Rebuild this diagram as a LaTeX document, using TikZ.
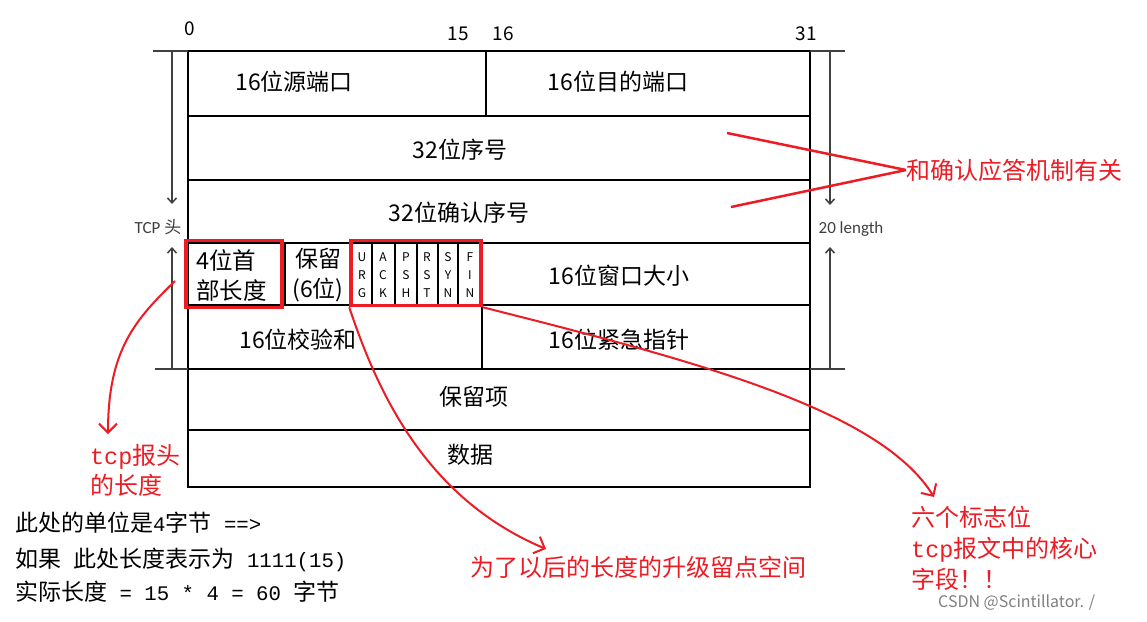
\documentclass[tikz,border=0pt]{standalone}
\usepackage{fontspec}
\setmainfont{Noto Sans CJK SC}
\newfontfamily\cali{Carlito}
\newfontfamily\mono{Liberation Mono}[Scale=0.9]
\usetikzlibrary{arrows.meta}
\definecolor{notered}{RGB}{237,28,36}
\definecolor{dimgray}{RGB}{64,64,64}
\begin{document}
\begin{tikzpicture}[x=1pt,y=-1pt,
  gridline/.style={line width=2.8pt},
  thinline/.style={line width=1.3pt},
  redbox/.style={draw=notered,line width=3.5pt,inner sep=0pt},
  cellt/.style={font=\fontsize{23}{26}\selectfont,inner sep=0pt},
  bitno/.style={font=\fontsize{19}{22}\selectfont,inner sep=0pt},
  flagt/.style={font=\fontsize{12}{18}\selectfont,inner sep=0pt,align=center},
  rednote/.style={text=notered,font=\fontsize{24}{31}\selectfont,align=left,inner sep=0pt},
  blacknote/.style={font=\fontsize{23}{26}\selectfont,inner sep=0pt,anchor=west},
  redarrow/.style={draw=notered,line width=2pt,-{Straight Barb[length=9pt,width=18pt,line width=2pt]}},
  redline/.style={draw=notered,line width=2.5pt},
  grayarrow/.style={draw=dimgray,line width=1.5pt,-{Straight Barb[length=5pt,width=9pt]}},
  graytick/.style={draw=dimgray,line width=1.5pt},
  smallgray/.style={text=dimgray,font=\cali\fontsize{17}{19}\selectfont,inner sep=0pt}
]
\useasboundingbox[fill=white] (0,0) rectangle (1147,621);

% bit numbers
\node[bitno] (b0) at (190,29) {0};
\node[bitno] (b15) at (458,34) {15};
\node[bitno] (b16) at (503,34) {16};
\node[bitno] (b31) at (806,34) {31};

% table frame
\draw[gridline] (188,51) rectangle (810,487);
\foreach \yy in {116,180,243,305,369,430}
  \draw[gridline] (188,\yy) -- (810,\yy);
\draw[gridline] (486,51) -- (486,116);
\draw[gridline] (482,305) -- (482,369);
\draw[gridline] (285,243) -- (285,305);
\draw[gridline] (351,243) -- (351,305);
\draw[gridline] (481,243) -- (481,305);
\foreach \xx in {372,395,417,438,458}
  \draw[thinline] (\xx,243) -- (\xx,305);

% cell texts
\node[cellt] (src) at (294,82) {16位源端口};
\node[cellt] (dst) at (618,82) {16位目的端口};
\node[cellt] (seq) at (460,150) {32位序号};
\node[cellt] (ack) at (459,213) {32位确认序号};
\node[cellt] (win) at (619,276) {16位窗口大小};
\node[cellt] (chk) at (298,340) {16位校验和};
\node[cellt] (urgp) at (619,340) {16位紧急指针};
\node[cellt] (opt) at (474,397) {保留项};
\node[cellt] (data) at (470,455) {数据};

% header length box
\node[redbox,minimum width=96pt,minimum height=67pt] (hlen) at (234,274) {};
\node[font=\fontsize{23.5}{30}\selectfont,align=left,inner sep=0pt,anchor=west] (hlent) at (196,275) {4位首\\部长度};
% reserved
\node[font=\fontsize{23}{30}\selectfont,align=center,inner sep=0pt] (resv) at (318,275) {保留\\(6位)};
% flags
\node[redbox,minimum width=130pt,minimum height=65pt] (flags) at (416,273) {};
\node[flagt] (fu) at (362,275) {U\\R\\G};
\node[flagt] (fa) at (383,275) {A\\C\\K};
\node[flagt] (fp) at (406,275) {P\\S\\H};
\node[flagt] (fr) at (427,275) {R\\S\\T};
\node[flagt] (fs) at (448,275) {S\\Y\\N};
\node[flagt] (ff) at (470,275) {F\\I\\N};

% left bracket: TCP head
\node[smallgray] (tcph) at (158,227) {TCP {\fontspec{Noto Sans CJK SC}头}};
\coordinate (lt) at (172,51);
\coordinate (lb) at (172,369);
\draw[graytick] (153,51) -- (188,51);
\draw[graytick] (155,369) -- (188,369);
\draw[grayarrow] (lt) -- (172,204);
\draw[grayarrow] (lb) -- (172,247);

% right bracket: 20 length
\node[smallgray] (len20) at (851,229) {20 length};
\coordinate (rt) at (830,51);
\coordinate (rb) at (830,369);
\draw[graytick] (810,51) -- (845,51);
\draw[graytick] (810,369) -- (845,369);
\draw[grayarrow] (rt) -- (830,205);
\draw[grayarrow] (rb) -- (830,247);

% red notes
\node[rednote,anchor=west] (acknote) at (906,170) {和确认应答机制有关};
\coordinate (seqpt) at (727,133);
\coordinate (ackpt) at (731,207);
\draw[redline] (seqpt) -- (acknote.west);
\draw[redline] (ackpt) -- (acknote.west);

\node[rednote,anchor=north west,font=\fontsize{24}{30}\selectfont] (tcplen) at (90,444) {{\mono\fontsize{26}{30}\selectfont tcp}报头\\的长度};
\coordinate (hlenpt) at (175,281);
\draw[redarrow] (hlenpt) .. controls (135,320) and (108,350) .. (108,434);

\node[rednote,anchor=west] (resnote) at (470,567) {为了以后的长度的升级留点空间};
\draw[redarrow] (flags.south west) .. controls (380,400) and (430,500) .. (546,549);

\node[rednote,anchor=north west] (flagnote) at (911,506) {六个标志位\\{\mono\fontsize{26}{31}\selectfont tcp}报文中的核心\\字段！！};
\draw[redarrow] (flags.south east) .. controls (700,362) and (880,410) .. (934,497);

% black notes
\node[blacknote] (unit) at (15,523) {此处的单位是{\mono 4}字节{\mono\ ==>}};
\node[blacknote] (ifl) at (15,560) {如果{\mono\ }此处长度表示为{\mono\ 1111(15)}};
\node[blacknote] (real) at (15,592) {实际长度{\mono\ =\ 15\ *\ 4\ =\ 60\ }字节};

% watermark
\node[text=gray,font=\fontsize{16}{18}\selectfont,inner sep=0pt,anchor=west] (wm) at (938,603) {CSDN @Scintillator. /};
\end{tikzpicture}
\end{document}
